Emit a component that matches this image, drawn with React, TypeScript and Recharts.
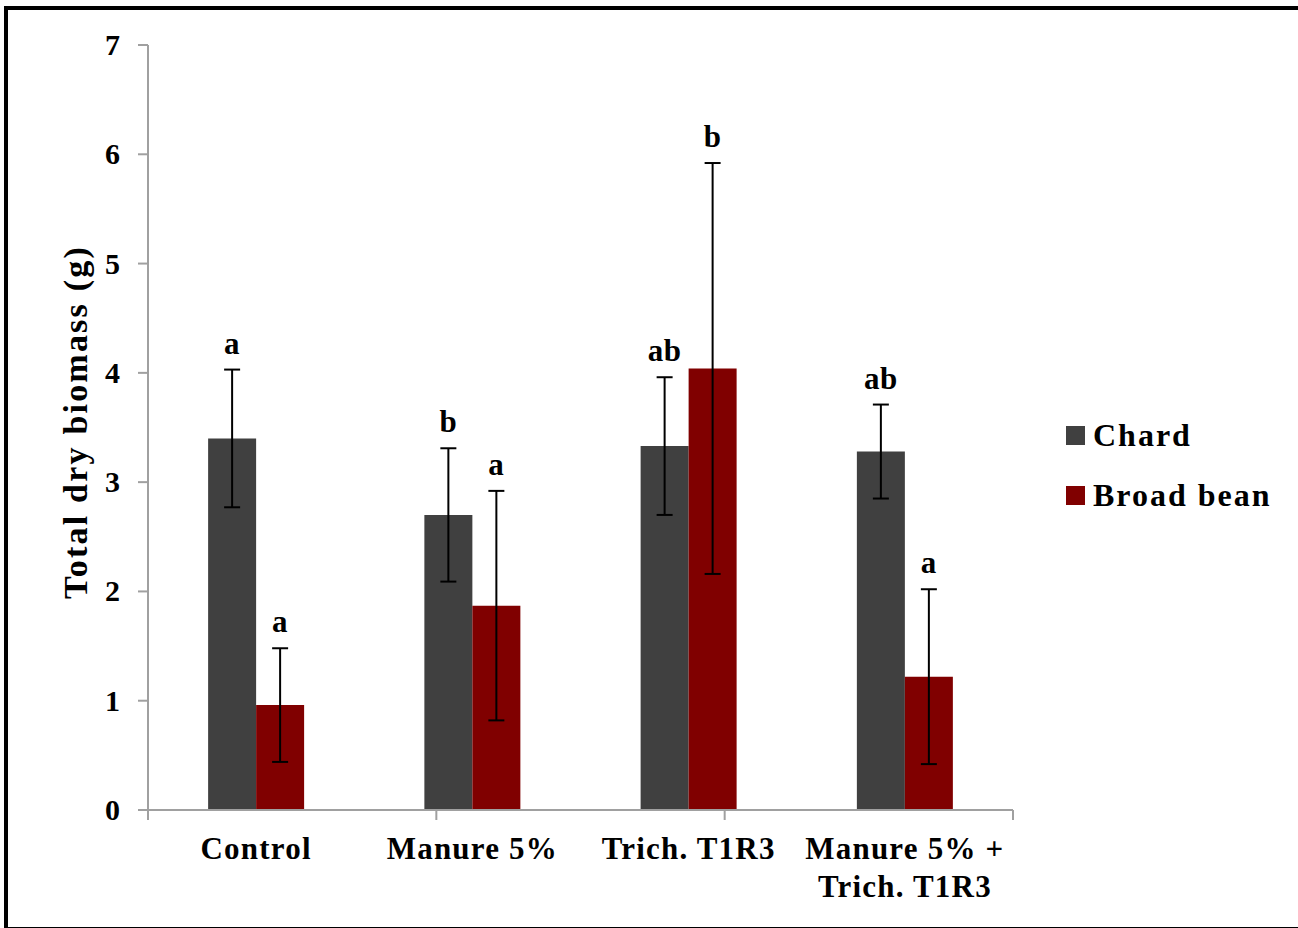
import React from 'react';
import { BarChart, Bar, XAxis, YAxis, ErrorBar, LabelList } from 'recharts';

const categories = ['Control', 'Manure 5%', 'Trich. T1R3', 'Manure 5% +\nTrich. T1R3'];
const chardValues = [3.40, 2.70, 3.33, 3.28];
const chardSD = [0.63, 0.61, 0.63, 0.43];
const beanValues = [0.96, 1.87, 4.04, 1.22];
const beanSD = [0.52, 1.05, 1.88, 0.80];
const chardLetters = ['a', 'b', 'ab', 'ab'];
const beanLetters = ['a', 'a', 'b', 'a'];
const yTicks = [0, 1, 2, 3, 4, 5, 6, 7];
const boundaryTicks = [0, 1, 2, 3, 4];

const data = categories.map((c, i) => ({
  name: c,
  chard: chardValues[i],
  chardSD: chardSD[i],
  chardLetter: chardLetters[i],
  bean: beanValues[i],
  beanSD: beanSD[i],
  beanLetter: beanLetters[i],
}));

const FONT = '"Liberation Serif", "Times New Roman", serif';
const CHARD = '#404040';
const BEAN = '#800000';
const AXIS = '#a0a0a0';

const makeLetterLabel = (sdArr: number[], valArr: number[]) => (props: any) => {
  const { x, y, width, height, value, index } = props;
  const v = valArr[index];
  const pxPerUnit = height / v;
  const topY = y - sdArr[index] * pxPerUnit;
  return (
    <text
      x={x + width / 2}
      y={topY - 16}
      textAnchor="middle"
      fontFamily={FONT}
      fontWeight="bold"
      fontSize={31}
      letterSpacing={0.5}
      fill="#000"
    >
      {value}
    </text>
  );
};

const CatTick = (props: any) => {
  const { x, y, payload } = props;
  const lines = String(payload.value).split('\n');
  return (
    <g>
      {lines.map((l, i) => (
        <text
          key={i}
          x={x}
          y={y + 37 + i * 38}
          textAnchor="middle"
          fontFamily={FONT}
          fontWeight="bold"
          fontSize={31}
          letterSpacing={1.2}
          fill="#000"
        >
          {l}
        </text>
      ))}
    </g>
  );
};

const EmptyTick = () => <g />;

const YTick = (props: any) => {
  const { x, y, payload } = props;
  return (
    <text x={x} y={y + 10} textAnchor="end" fontFamily={FONT} fontWeight="bold" fontSize={30} fill="#000">
      {payload.value}
    </text>
  );
};

export default function App() {
  return (
    <div style={{ position: 'absolute', left: 0, top: 0, width: 1298, height: 928, background: '#fff', overflow: 'hidden' }}>
      <div
        style={{
          position: 'absolute',
          left: 4,
          top: 6,
          width: 1320,
          height: 917,
          border: '4px solid #000',
          boxSizing: 'content-box',
        }}
      />
      <div style={{ position: 'absolute', left: 0, top: 0 }}>
        <BarChart
          width={1298}
          height={928}
          data={data}
          margin={{ top: 45, right: 285, bottom: 46, left: 68 }}
          barCategoryGap="27.8%"
          barGap={0}
        >
          <XAxis
            xAxisId="a"
            type="number"
            domain={[0, 4]}
            ticks={boundaryTicks}
            height={12}
            stroke={AXIS}
            strokeWidth={2}
            tick={<EmptyTick />}
            tickSize={10}
            allowDataOverflow
          />
          <XAxis
            xAxisId="b"
            dataKey="name"
            height={60}
            axisLine={false}
            tickLine={false}
            tickSize={0}
            tickMargin={0}
            interval={0}
            tick={<CatTick />}
          />
          <YAxis
            domain={[0, 7]}
            ticks={yTicks}
            width={80}
            stroke={AXIS}
            strokeWidth={2}
            tickSize={10}
            tickMargin={18}
            interval={0}
            tick={<YTick />}
            label={{
              content: () => (
                <text
                  x={75}
                  y={422}
                  transform="rotate(-90, 75, 422)"
                  textAnchor="middle"
                  dominantBaseline="central"
                  fontFamily={FONT}
                  fontWeight="bold"
                  fontSize={34}
                  letterSpacing={2.2}
                  fill="#000"
                >
                  Total dry biomass (g)
                </text>
              ),
            }}
          />
          <Bar dataKey="chard" xAxisId="b" fill={CHARD} isAnimationActive={false}>
            <ErrorBar dataKey="chardSD" width={8} stroke="#000" strokeWidth={2} direction="y" />
            <LabelList dataKey="chardLetter" content={makeLetterLabel(chardSD, chardValues)} />
          </Bar>
          <Bar dataKey="bean" xAxisId="b" fill={BEAN} isAnimationActive={false}>
            <ErrorBar dataKey="beanSD" width={8} stroke="#000" strokeWidth={2} direction="y" />
            <LabelList dataKey="beanLetter" content={makeLetterLabel(beanSD, beanValues)} />
          </Bar>
        </BarChart>
      </div>
      <div style={{ position: 'absolute', left: 1066, top: 415, fontFamily: FONT, fontWeight: 'bold', fontSize: 32, letterSpacing: 2, color: '#000' }}>
        <div style={{ display: 'flex', alignItems: 'center', height: 40, marginBottom: 20 }}>
          <span style={{ display: 'inline-block', width: 19, height: 19, background: CHARD, marginRight: 8 }} />
          <span>Chard</span>
        </div>
        <div style={{ display: 'flex', alignItems: 'center', height: 40 }}>
          <span style={{ display: 'inline-block', width: 19, height: 19, background: BEAN, marginRight: 8 }} />
          <span>Broad bean</span>
        </div>
      </div>
    </div>
  );
}
